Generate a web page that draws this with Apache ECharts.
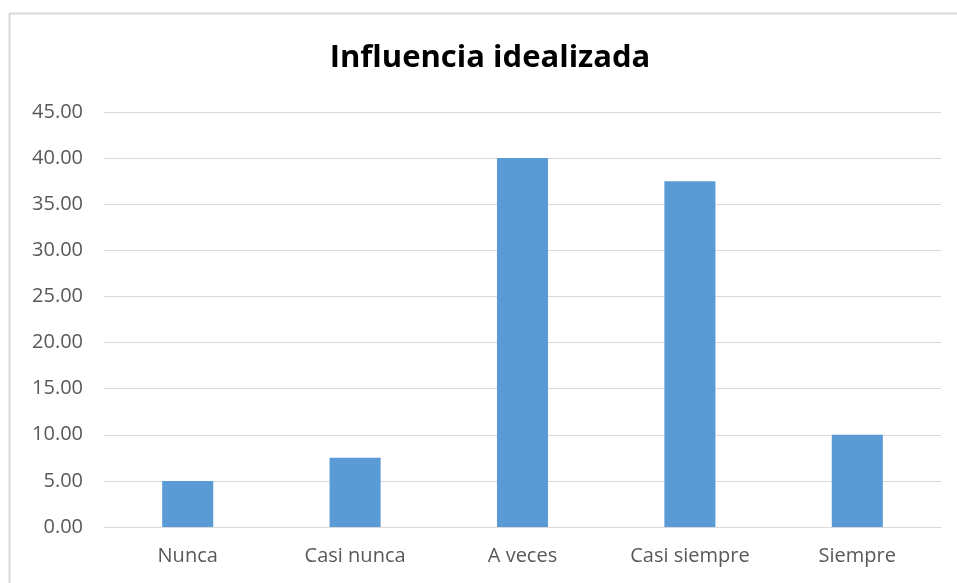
<!DOCTYPE html>
<html>
<head>
<meta charset="utf-8">
<script src="https://cdn.jsdelivr.net/npm/echarts@6/dist/echarts.min.js"></script>
<style>
  html, body { margin: 0; padding: 0; background: #fff; }
  #chart { width: 957px; height: 583px; }
</style>
</head>
<body>
<div id="chart"></div>
<script>
// datos
var categorias = ['Nunca', 'Casi nunca', 'A veces', 'Casi siempre', 'Siempre'];
var valores = [5.00, 7.50, 40.00, 37.50, 10.00];
var titulo = 'Influencia idealizada';

var myChart = echarts.init(document.getElementById('chart'));
myChart.setOption({
  animation: false,
  backgroundColor: '#ffffff',
  graphic: [
    {
      type: 'rect',
      shape: { x: 9.5, y: 13.5, width: 1000, height: 1000 },
      style: { fill: 'none', stroke: '#d9d9d9', lineWidth: 2 },
      z: 0
    },
    {
      type: 'text',
      x: 490,
      y: 58,
      style: {
        text: titulo,
        textAlign: 'center',
        textVerticalAlign: 'middle',
        font: 'bold 31px "Open Sans", "Noto Sans", sans-serif',
        fill: '#000000'
      }
    }
  ],
  grid: { left: 104, right: 16, top: 112, bottom: 56, containLabel: false },
  xAxis: {
    type: 'category',
    data: categorias,
    axisLine: { lineStyle: { color: '#d9d9d9', width: 1 } },
    axisTick: { show: false },
    axisLabel: { color: '#595959', fontSize: 20, margin: 19, fontFamily: '"Open Sans", sans-serif' }
  },
  yAxis: {
    type: 'value',
    min: 0,
    max: 45,
    interval: 5,
    axisLine: { show: false },
    axisTick: { show: false },
    splitLine: { lineStyle: { color: '#d9d9d9', width: 1 } },
    axisLabel: {
      color: '#595959', fontSize: 20, margin: 21, fontFamily: '"Open Sans", sans-serif',
      formatter: function (v) { return v.toFixed(2); }
    }
  },
  series: [{
    type: 'bar',
    data: valores,
    barWidth: '30.5%',
    itemStyle: { color: '#5b9bd5' }
  }]
});
</script>
</body>
</html>
